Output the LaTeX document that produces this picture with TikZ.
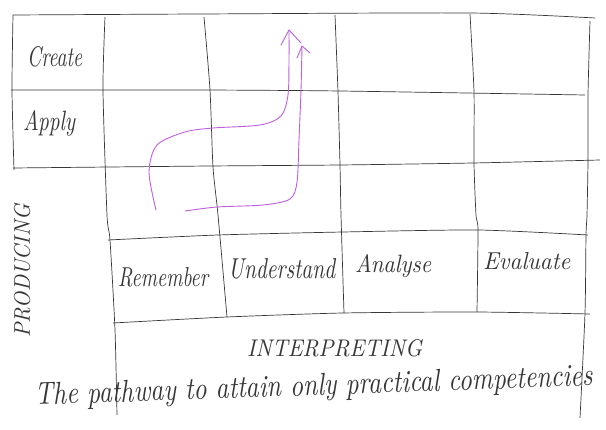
\documentclass[tikz,border=0pt]{standalone}
\usepackage{graphicx}
\definecolor{pen}{RGB}{55,55,55}
\definecolor{violetpen}{RGB}{190,95,220}
\newcommand{\hwtext}[3]{\resizebox{#1}{#2}{\itshape #3}}
\begin{document}
\begin{tikzpicture}[x=1pt,y=-1pt,
  gridline/.style={draw=pen,line width=0.7pt,line join=round},
  pathline/.style={draw=violetpen,line width=0.9pt,line cap=round,line join=round},
  label/.style={inner sep=0pt,text=pen}]
\useasboundingbox[fill=white] (0,0) rectangle (606,430);
% horizontal lines
\draw[gridline] plot[smooth,tension=0.4] coordinates {(13,15) (200,14) (470,13) (595,18)};
\draw[gridline] plot[smooth,tension=0.4] coordinates {(11,90) (200,90) (340,91) (585,95)};
\draw[gridline] plot[smooth,tension=0.4] coordinates {(13,168) (210,166) (340,165) (473,163) (600,160)};
\draw[gridline] plot[smooth,tension=0.4] coordinates {(108,240) (218,235) (343,232) (478,230) (588,235)};
\draw[gridline] plot[smooth,tension=0.4] coordinates {(113,323) (227,317) (343,313) (476,312) (590,314)};
% vertical lines
\draw[gridline] plot[smooth,tension=0.4] coordinates {(13,15) (12,90) (14,170)};
\draw[gridline] plot[smooth,tension=0.4] coordinates {(105,17) (103,90) (107,215) (110,240) (115,330) (117,415)};
\draw[gridline] plot[smooth,tension=0.4] coordinates {(204,17) (210,90) (213,167) (218,215) (227,317)};
\draw[gridline] plot[smooth,tension=0.4] coordinates {(335,15) (338,92) (340,165) (341,215) (344,313)};
\draw[gridline] plot[smooth,tension=0.4] coordinates {(470,14) (474,92) (474,163) (476,215) (478,230) (477,312)};
\draw[gridline] plot[smooth,tension=0.4] coordinates {(590,21) (588,95) (588,160) (587,215) (586,235) (585,313) (580,418)};
% labels
\node[label,anchor=base west] (create) at (27,67) {\hwtext{55pt}{20pt}{Create}};
\node[label,anchor=base west] (apply) at (23,131) {\hwtext{52pt}{20pt}{Apply}};
\node[label,anchor=base west] (remember) at (118,287) {\hwtext{90pt}{19pt}{Remember}};
\node[label,anchor=base west] (understand) at (228,279) {\hwtext{107pt}{20pt}{Understand}};
\node[label,anchor=base west] (analyse) at (355,273) {\hwtext{76pt}{18pt}{Analyse}};
\node[label,anchor=base west] (evaluate) at (483,270) {\hwtext{87pt}{17pt}{Evaluate}};
\node[label,anchor=base west] (interp) at (247,357) {\hwtext{175pt}{17pt}{INTERPRETING}};
\node[label,rotate=90] (producing) at (22,271) {\hwtext{133pt}{16pt}{PRODUCING}};
\node[label,anchor=base west,rotate=2] (pathway) at (35,405) {\hwtext{558pt}{22pt}{The pathway to attain only practical competencies}};
% violet pathways
\draw[pathline] plot[smooth,tension=0.5] coordinates {(156,210) (149,172) (157,145) (185,132) (213,128) (260,125) (281,116) (288,95) (289,60) (289,30)};
\draw[pathline] (281,45) -- (289,30) -- (301,43);
\draw[pathline] plot[smooth,tension=0.5] coordinates {(185,211) (217,207) (263,205) (290,199) (297,182) (299,140) (301,90) (302,46)};
\draw[pathline] (297,58) -- (302,46) -- (310,53);
\end{tikzpicture}
\end{document}
